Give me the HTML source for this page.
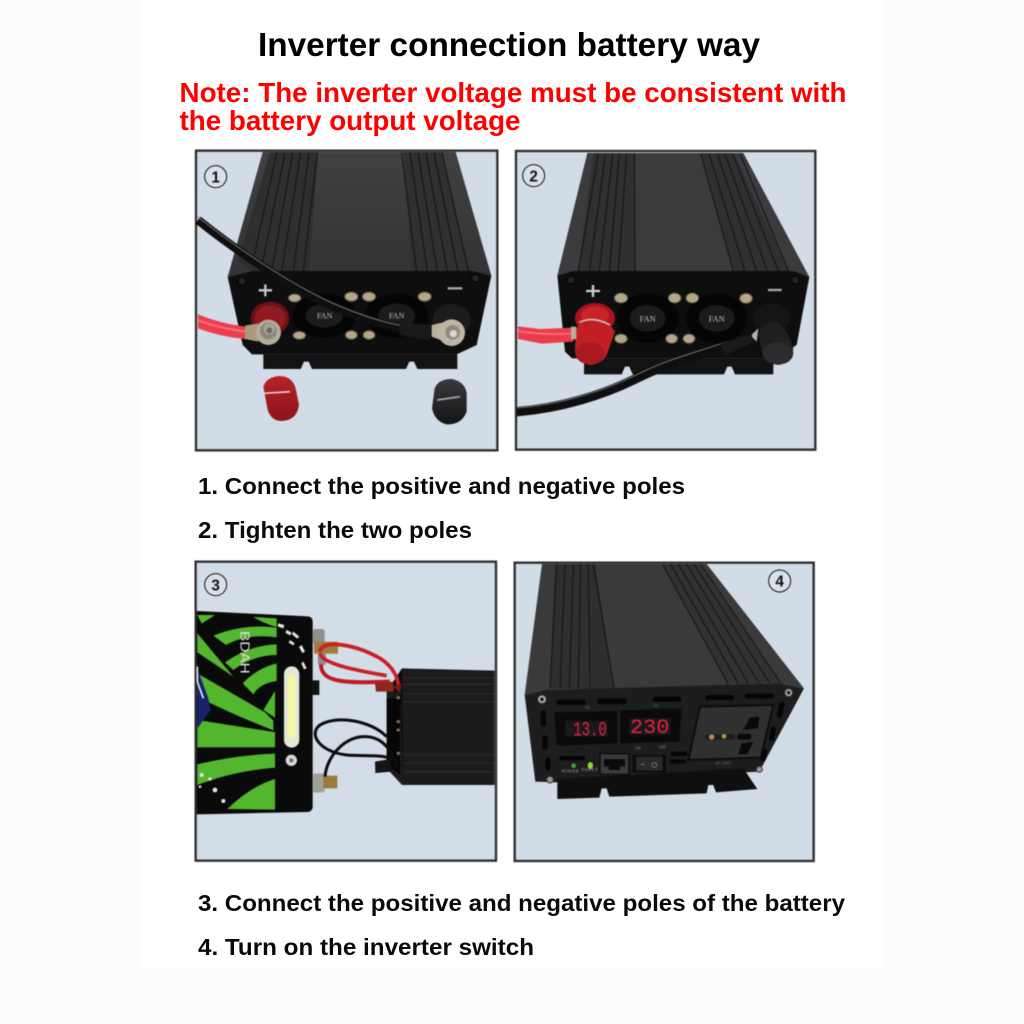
<!DOCTYPE html>
<html><head><meta charset="utf-8"><style>
html,body{margin:0;padding:0;background:#fdfbfb}
body{width:1024px;height:1024px;position:relative;overflow:hidden}
.bg{position:absolute;left:140px;top:0;width:744px;height:968px;background:#fff}
svg{position:absolute;overflow:hidden}
svg.p{filter:blur(.45px)}
text{font-family:"Liberation Sans",sans-serif}
</style></head><body>
<div class="bg"></div>
<svg style="left:0;top:0" width="1024" height="1024" viewBox="0 0 1024 1024">
<g font-weight="bold" fill="#000">
<text x="258" y="56" font-size="33" textLength="502" lengthAdjust="spacingAndGlyphs">Inverter connection battery way</text>
<g fill="#fe0000" font-size="27.5">
<text x="179.500" y="102" textLength="667" lengthAdjust="spacingAndGlyphs">Note: The inverter voltage must be consistent with</text>
<text x="179.500" y="130" textLength="341" lengthAdjust="spacingAndGlyphs">the battery output voltage</text>
</g>
<g font-size="23" fill="#0a0a0a">
<text x="198" y="494" textLength="487" lengthAdjust="spacingAndGlyphs">1. Connect the positive and negative poles</text>
<text x="198" y="538" textLength="274" lengthAdjust="spacingAndGlyphs">2. Tighten the two poles</text>
<text x="198" y="911" textLength="647" lengthAdjust="spacingAndGlyphs">3. Connect the positive and negative poles of the battery</text>
<text x="198" y="955" textLength="336" lengthAdjust="spacingAndGlyphs">4. Turn on the inverter switch</text>
</g>
</g>
</svg>

<!-- Panel 1 -->
<svg class="p" style="left:190px;top:145px" width="320" height="315" viewBox="0 0 960 945">
<defs>
<linearGradient id="top1" x1="0" y1="0" x2="0" y2="1"><stop offset="0" stop-color="#414143"/><stop offset="1" stop-color="#333334"/></linearGradient>
<linearGradient id="capR" x1="0" y1="0" x2="0" y2="1"><stop offset="0" stop-color="#b92229"/><stop offset=".4" stop-color="#a51b22"/><stop offset="1" stop-color="#8e141a"/></linearGradient>
<linearGradient id="capK" x1="0" y1="0" x2="0" y2="1"><stop offset="0" stop-color="#3a3a3d"/><stop offset=".4" stop-color="#2a2a2c"/><stop offset="1" stop-color="#151516"/></linearGradient>
</defs>
<rect x="18" y="17" width="904" height="899" fill="#d2dce7" stroke="#2d2d2f" stroke-width="7"/>
<path d="M218 21H797L904 392L850 380H190L113 396Z" fill="url(#top1)"/>
<path d="M240 21H385L357 382H190L145 345Z" fill="#2e2e2f"/>
<path d="M640 21H758L836 380H665Z" fill="#303031"/>
<g stroke="#111112" stroke-width="3" fill="none">
<path d="M260 24L193 330M285 24L218 350M308 24L245 378M332 24L275 380M357 24L310 380M382 24L340 380"/>
<path d="M635 24L680 380M660 24L712 380M684 24L742 380M708 24L772 380M732 24L804 380M756 24L836 380"/>
</g>
<path d="M113 396L190 378L850 378L904 392L860 600L800 628L186 628L158 600Z" fill="#0e0e0f"/>
<path d="M220 628H802V672H682L672 650H658L648 672H366L356 650H342L332 672H220Z" fill="#131314"/>
<ellipse cx="403" cy="512" rx="95" ry="66" fill="#050506"/>
<ellipse cx="620" cy="512" rx="95" ry="66" fill="#050506"/>
<ellipse cx="403" cy="512" rx="56" ry="36" fill="#1b1b1c"/>
<ellipse cx="620" cy="512" rx="56" ry="36" fill="#1b1b1c"/>
<text x="404" y="521" font-size="24" text-anchor="middle" fill="#bdbdbd" style="font-family:'Liberation Serif',serif">FAN</text>
<text x="620" y="521" font-size="24" text-anchor="middle" fill="#bdbdbd" style="font-family:'Liberation Serif',serif">FAN</text>
<g fill="#b5a78a" stroke="#57503f" stroke-width="3">
<ellipse cx="314" cy="459" rx="19" ry="12"/><ellipse cx="484" cy="455" rx="20" ry="14"/><ellipse cx="537" cy="455" rx="20" ry="14"/><ellipse cx="704" cy="455" rx="20" ry="14"/>
<ellipse cx="328" cy="571" rx="19" ry="12"/><ellipse cx="484" cy="570" rx="18" ry="13"/><ellipse cx="537" cy="570" rx="18" ry="13"/>
</g>
<circle cx="156" cy="408" r="12" fill="#222" stroke="#000" stroke-width="3"/>
<circle cx="856" cy="400" r="12" fill="#222" stroke="#000" stroke-width="3"/>
<path d="M206 436H246M226 418V454" stroke="#c5c8cc" stroke-width="7"/>
<path d="M773 430H817" stroke="#a6a9ae" stroke-width="7"/>
<ellipse cx="240" cy="520" rx="58" ry="50" fill="#6b1118"/>
<ellipse cx="240" cy="520" rx="46" ry="40" fill="#8f1a20"/>
<path d="M24 508Q90 535 165 545L165 582Q90 575 24 550Z" fill="#ee3d4d"/>
<path d="M24 526Q90 550 165 560" stroke="#f7717e" stroke-width="6" fill="none"/>
<path d="M165 542L205 535V590L165 582Z" fill="#a89a7e"/>
<circle cx="235" cy="562" r="38" fill="#b3ac9b"/>
<circle cx="235" cy="558" r="25" fill="#8b8578"/><circle cx="238" cy="552" r="17" fill="#a8a49b"/><circle cx="238" cy="556" r="9" fill="#6f6a60"/>
<ellipse cx="785" cy="525" rx="58" ry="48" fill="#1c1c1d"/>
<path d="M725 540L770 530V592L725 575Z" fill="#b8b1a0"/>
<circle cx="785" cy="563" r="40" fill="#bdb6a4"/>
<circle cx="788" cy="562" r="22" fill="#8f8a80"/><circle cx="790" cy="566" r="11" fill="#d8d6ce"/>
<path d="M24 225C130 310 290 420 420 480C500 515 570 540 640 552" fill="none" stroke="#0f0f10" stroke-width="26"/>
<path d="M24 216C130 301 290 411 420 471C500 506 570 531 640 543" fill="none" stroke="#747679" stroke-width="3"/>
<path d="M630 530L725 540L720 584L628 570Z" fill="#1a1a1b"/>
<path d="M220 725Q230 695 270 693Q310 695 318 735L327 780Q320 828 272 828Q240 825 232 790Z" fill="url(#capR)"/>
<path d="M222 745L300 740" stroke="#ecd0c8" stroke-width="5"/>
<path d="M734 730Q745 702 785 702Q825 710 830 745L830 800Q815 840 770 838Q735 830 726 790Z" fill="url(#capK)"/>
<path d="M742 765L810 755" stroke="#a7a9ad" stroke-width="5"/>
<circle cx="77" cy="95" r="33" fill="#d8e1ea" stroke="#111" stroke-width="3"/>
<text x="77" y="112" font-size="46" font-weight="bold" text-anchor="middle" fill="#111">1</text>
</svg>

<!-- Panel 2 -->
<svg class="p" style="left:510px;top:145px" width="320" height="315" viewBox="0 0 960 945">
<rect x="18" y="18" width="898" height="896" fill="#d2dce7" stroke="#2d2d2f" stroke-width="7"/>
<path d="M232 24H700L898 396L850 380H190L142 392Z" fill="#3b3b3d"/>
<path d="M250 24H375L377 378H205Z" fill="#303031"/>
<path d="M572 24H672L835 380H670Z" fill="#303031"/>
<g stroke="#111112" stroke-width="3" fill="none">
<path d="M265 26L205 378M287 26L238 378M308 26L268 378M328 26L298 378M350 26L325 378M373 26L375 378"/>
<path d="M572 26L670 378M597 26L705 378M622 26L740 378M645 26L772 378M668 26L805 378M690 26L835 378"/>
</g>
<path d="M142 392L190 378L850 378L898 396L860 600L800 640L186 640L165 620Z" fill="#0e0e0f"/>
<path d="M222 640H790V688H675L665 665H652L642 688H368L358 665H345L335 688H222Z" fill="#131314"/>
<ellipse cx="413" cy="520" rx="92" ry="74" fill="#050506"/>
<ellipse cx="620" cy="520" rx="92" ry="74" fill="#050506"/>
<ellipse cx="413" cy="520" rx="54" ry="40" fill="#1b1b1c"/>
<ellipse cx="620" cy="520" rx="54" ry="40" fill="#1b1b1c"/>
<text x="413" y="530" font-size="25" text-anchor="middle" fill="#c2c2c2" style="font-family:'Liberation Serif',serif">FAN</text>
<text x="620" y="530" font-size="25" text-anchor="middle" fill="#c2c2c2" style="font-family:'Liberation Serif',serif">FAN</text>
<g fill="#b5a78a" stroke="#57503f" stroke-width="3">
<ellipse cx="333" cy="459" rx="20" ry="15"/><ellipse cx="494" cy="459" rx="19" ry="15"/><ellipse cx="547" cy="459" rx="19" ry="15"/><ellipse cx="708" cy="460" rx="19" ry="15"/>
<ellipse cx="333" cy="581" rx="19" ry="14"/><ellipse cx="485" cy="581" rx="18" ry="14"/><ellipse cx="537" cy="581" rx="18" ry="14"/>
</g>
<circle cx="183" cy="405" r="12" fill="#222" stroke="#000" stroke-width="3"/>
<circle cx="856" cy="405" r="12" fill="#222" stroke="#000" stroke-width="3"/>
<path d="M228 438H270M249 420V456" stroke="#cfd2d6" stroke-width="7"/>
<path d="M774 435H815" stroke="#a6a9ae" stroke-width="7"/>
<path d="M24 544L90 552L190 548V590L95 596L24 582Z" fill="#ec3b4b"/>
<path d="M24 558Q90 570 190 566" stroke="#f6707c" stroke-width="5" fill="none"/>
<ellipse cx="255" cy="520" rx="60" ry="46" fill="#a8141f"/>
<ellipse cx="255" cy="512" rx="42" ry="28" fill="#c9242c"/>
<path d="M197 560Q205 525 250 525Q295 530 315 560L292 625Q280 655 240 660Q205 655 195 620Z" fill="#c21f25"/>
<path d="M208 532Q250 512 300 540" stroke="#c8c6bd" stroke-width="5" fill="none"/>
<ellipse cx="240" cy="625" rx="44" ry="33" fill="#a81a20"/>
<rect x="183" y="545" width="16" height="38" fill="#b8ae98"/>
<ellipse cx="785" cy="520" rx="56" ry="45" fill="#151516"/>
<path d="M745 565Q760 530 800 530Q835 555 850 610Q850 650 805 660Q765 655 755 620Z" fill="#1f1f21"/>
<ellipse cx="804" cy="625" rx="46" ry="34" fill="#2c2c2e"/>
<path d="M722 572L745 550L740 590Z" fill="#b8b5a9"/>
<path d="M20 800C150 790 280 750 380 700C480 650 570 630 660 600" fill="none" stroke="#0f0f10" stroke-width="28"/>
<path d="M20 789C150 779 280 739 380 689C480 639 570 619 650 590" fill="none" stroke="#707275" stroke-width="3"/>
<path d="M632 595L725 568L730 590L645 632Z" fill="#1a1a1b"/>
<circle cx="71" cy="92" r="33" fill="#d8e1ea" stroke="#111" stroke-width="3"/>
<text x="71" y="109" font-size="46" font-weight="bold" text-anchor="middle" fill="#111">2</text>
</svg>

<!-- Panel 3 -->
<svg class="p" style="left:190px;top:555px" width="320" height="315" viewBox="0 0 960 945">
<rect x="17" y="20" width="901" height="897" fill="#d3dde8" stroke="#2d2d2f" stroke-width="7"/>
<path d="M20 168L355 184Q368 186 368 200V758Q366 770 352 771L20 778Z" fill="#0a0a0b"/>
<g fill="#53b62f">
<path d="M22 180H75L35 206Z"/>
<path d="M190 186L260 190V216Q220 205 190 186Z"/>
<path d="M70 242Q160 205 260 218V247Q170 235 108 270Z"/>
<path d="M22 235L130 365L22 292Z"/>
<path d="M105 322Q180 270 260 268V300Q190 300 130 345Z"/>
<path d="M22 355L225 472L250 497V526Q130 480 22 425Z"/>
<path d="M158 385Q200 340 260 325V378Q210 385 190 418Z"/>
<path d="M220 465L255 408V488Z"/>
<path d="M22 490L255 528V575H22Z" transform="translate(0,22) scale(1,.965)"/>
<path d="M22 628Q140 600 255 596V638Q130 648 22 690Z"/>
<path d="M112 762Q180 695 255 672V764Z"/>
</g>
<path d="M22 340L55 430L62 465L22 520Z" fill="#18226b"/>
<path d="M22 335V380L40 430" stroke="#e6e9ef" stroke-width="5" fill="none"/>
<text x="0" y="0" transform="translate(152,228) rotate(90)" font-size="39" fill="#e1e1e1" textLength="128" lengthAdjust="spacingAndGlyphs">BDAH</text>
<rect x="282" y="334" width="46" height="244" rx="23" fill="#e4e7d6"/>
<rect x="293" y="360" width="24" height="190" rx="12" fill="#f3f6a8"/>
<circle cx="304" cy="616" r="17" fill="#d8d8d8"/><circle cx="304" cy="616" r="6" fill="#666"/>
<g fill="#e8e8d8">
<path d="M265 205l18 5-3 10-17-6zM290 225l15 8-5 8-14-8zM310 230l18 15-6 6-16-13zM335 270l10 20-8 4-10-18zM340 320l10 20-8 3-8-18zM300 255l14 10-4 6-14-8z"/>
<circle cx="35" cy="660" r="6"/><circle cx="60" cy="672" r="5"/><circle cx="75" cy="705" r="7"/><circle cx="100" cy="738" r="6"/><circle cx="30" cy="695" r="4"/>
</g>
<rect x="366" y="376" width="22" height="44" fill="#111"/>
<rect x="368" y="222" width="36" height="46" rx="8" fill="#8f8f8c"/>
<rect x="372" y="260" width="72" height="36" fill="#a07c3d"/>
<rect x="384" y="296" width="24" height="34" rx="6" fill="#8b8b87"/>
<rect x="368" y="655" width="36" height="58" rx="8" fill="#a0a09d"/>
<rect x="400" y="662" width="42" height="38" fill="#9c783a"/>
<path d="M636 340L914 347V690H636L590 640V410Z" fill="#1b1b1c"/>
<path d="M590 430H630V660L590 630Z" fill="#060607"/>
<path d="M636 340L590 410H630L640 688" fill="#0c0c0d"/>
<g stroke="#2f3031" stroke-width="3">
<path d="M640 368H912M640 388H912M640 416H912M640 440H912M640 600H912M640 625H912M640 650H912"/>
</g>
<circle cx="625" cy="428" r="5" fill="#7b6f5c"/><circle cx="625" cy="500" r="5" fill="#7b6f5c"/><circle cx="625" cy="525" r="5" fill="#7b6f5c"/><circle cx="625" cy="595" r="5" fill="#7b6f5c"/>
<path d="M388 290C400 250 500 270 570 310C610 335 625 370 625 395" fill="none" stroke="#cb2026" stroke-width="11"/>
<path d="M390 295C395 325 490 345 590 362" fill="none" stroke="#c91f25" stroke-width="11"/>
<path d="M393 328C392 385 470 384 600 380" fill="none" stroke="#bd1c22" stroke-width="12"/>
<path d="M555 385L610 380L612 410H558Z" fill="#8a2a1a"/>
<path d="M610 395L635 385L630 415Z" fill="#7a1a1a"/>
<path d="M590 545C540 495 440 480 390 510C355 535 385 590 470 600C530 605 590 595 620 620" fill="none" stroke="#0c0c0d" stroke-width="9"/>
<path d="M405 665C410 600 470 540 530 545C580 548 610 590 620 640" fill="none" stroke="#0c0c0d" stroke-width="9"/>
<path d="M555 620L600 612L608 650L556 654Z" fill="#141415"/>
<circle cx="77" cy="89" r="33" fill="#d8e1ea" stroke="#111" stroke-width="3"/>
<text x="77" y="106" font-size="46" font-weight="bold" text-anchor="middle" fill="#111">3</text>
</svg>

<!-- Panel 4 -->
<svg class="p" style="left:510px;top:555px" width="320" height="315" viewBox="0 0 960 945">
<rect x="14" y="23" width="897" height="895" fill="#d2dce7" stroke="#2d2d2f" stroke-width="7"/>
<path d="M96 27H590L882 400L810 385L110 408L44 420Z" fill="#3a3a3b"/>
<path d="M135 27H255L312 400H120Z" fill="#2e2e2f"/>
<path d="M458 27H565L812 385H655Z" fill="#323233"/>
<g stroke="#111112" stroke-width="3" fill="none">
<path d="M140 28L120 400M165 28L150 400M190 28L178 400M212 28L205 400M235 28L240 400M250 28L312 398"/>
<path d="M458 28L655 388M482 28L685 386M505 28L715 386M530 28L748 386M552 28L780 386M572 28L812 384"/>
</g>
<path d="M44 420L110 405L810 385L882 400L748 650L140 682L76 680Z" fill="#1d1d1e"/>
<path d="M142 672L700 640L742 702L618 712L610 690H595L590 715L298 725L290 700H275L268 728L142 732Z" fill="#0f0f10"/>
<g fill="#050506">
<rect x="140" y="434" width="88" height="16" rx="8"/><rect x="262" y="431" width="88" height="16" rx="8"/><rect x="428" y="425" width="86" height="15" rx="7"/><rect x="586" y="420" width="86" height="15" rx="7"/><rect x="704" y="416" width="86" height="15" rx="7"/>
<rect x="92" y="465" width="16" height="50" rx="8"/><rect x="97" y="541" width="16" height="44" rx="8"/><rect x="106" y="608" width="15" height="38" rx="7"/>
<rect x="804" y="440" width="16" height="50" rx="8" transform="rotate(12 812 465)"/><rect x="780" y="514" width="15" height="44" rx="7" transform="rotate(12 787 536)"/><rect x="755" y="582" width="15" height="38" rx="7" transform="rotate(12 762 600)"/>
<rect x="148" y="603" width="78" height="13" rx="6"/><rect x="482" y="590" width="50" height="13" rx="6"/><rect x="478" y="613" width="50" height="13" rx="6"/>
</g>
<path d="M133 472L322 468L322 565L140 572Z" fill="#0a0a0b"/>
<path d="M331 466L515 460L508 560L331 565Z" fill="#0a0a0b"/>
<rect x="165" y="497" width="128" height="48" fill="#19191b"/>
<rect x="358" y="490" width="124" height="50" fill="#19191b"/>
<text x="190" y="541" font-size="60" fill="#e8213c" textLength="100" lengthAdjust="spacingAndGlyphs" style="font-family:'Liberation Mono',monospace">13.0</text>
<text x="360" y="534" font-size="62" fill="#e8213c" textLength="118" lengthAdjust="spacingAndGlyphs" style="font-family:'Liberation Mono',monospace">230</text>
<text x="234" y="462" font-size="13" text-anchor="middle" fill="#77787a" style="font-family:'Liberation Serif',serif">DC</text>
<text x="438" y="456" font-size="13" text-anchor="middle" fill="#77787a" style="font-family:'Liberation Serif',serif">AC</text>
<path d="M570 455L790 450L752 608L535 615Z" fill="#303031" stroke="#0c0c0d" stroke-width="6"/>
<path d="M720 488L748 485L744 520L700 524Z" fill="#090909"/>
<path d="M695 565L730 561L712 597L685 598Z" fill="#090909"/>
<rect x="682" y="536" width="42" height="18" rx="8" fill="#0a0a0a"/>
<rect x="585" y="538" width="90" height="16" rx="8" fill="#0a0a0a" opacity=".5"/>
<circle cx="605" cy="546" r="8" fill="#b79147"/><circle cx="642" cy="544" r="7" fill="#b79147"/>
<text x="640" y="628" font-size="13" text-anchor="middle" fill="#7a7b7d" style="font-family:'Liberation Serif',serif">AC 220V</text>
<rect x="270" y="596" width="86" height="62" fill="#3b3b3d" stroke="#0d0d0e" stroke-width="4"/>
<path d="M282 612H345V635H330V645H296V635H282Z" fill="#0b0b0c"/>
<rect x="368" y="600" width="100" height="52" fill="#0a0a0b"/>
<rect x="378" y="605" width="80" height="42" fill="#2a2a2b"/>
<path d="M392 628H404" stroke="#777" stroke-width="3"/>
<circle cx="433" cy="630" r="7" fill="none" stroke="#777" stroke-width="3"/>
<text x="384" y="584" font-size="12" text-anchor="middle" fill="#8c8d8e" style="font-family:'Liberation Serif',serif">ON</text>
<text x="458" y="580" font-size="12" text-anchor="middle" fill="#8c8d8e" style="font-family:'Liberation Serif',serif">OFF</text>
<ellipse cx="191" cy="632" rx="7" ry="7" fill="#3da33c"/>
<ellipse cx="241" cy="632" rx="8" ry="11" fill="#8fd43a"/>
<text x="155" y="652" font-size="13" fill="#9b9c9e" textLength="52" lengthAdjust="spacingAndGlyphs" style="font-family:'Liberation Serif',serif">POWER</text>
<text x="214" y="648" font-size="13" fill="#9b9c9e" textLength="50" lengthAdjust="spacingAndGlyphs" style="font-family:'Liberation Serif',serif">FAULT</text>
<circle cx="96" cy="433" r="13" fill="#aaa" stroke="#333" stroke-width="3"/><circle cx="96" cy="433" r="5" fill="#111"/>
<circle cx="836" cy="413" r="12" fill="#aaa" stroke="#333" stroke-width="3"/><circle cx="836" cy="413" r="5" fill="#111"/>
<circle cx="120" cy="674" r="10" fill="#999" stroke="#333" stroke-width="3"/>
<circle cx="748" cy="643" r="9" fill="#999" stroke="#333" stroke-width="3"/>
<circle cx="809" cy="78" r="33" fill="#d8e1ea" stroke="#111" stroke-width="3"/>
<text x="809" y="95" font-size="46" font-weight="bold" text-anchor="middle" fill="#111">4</text>
</svg>
</body></html>
